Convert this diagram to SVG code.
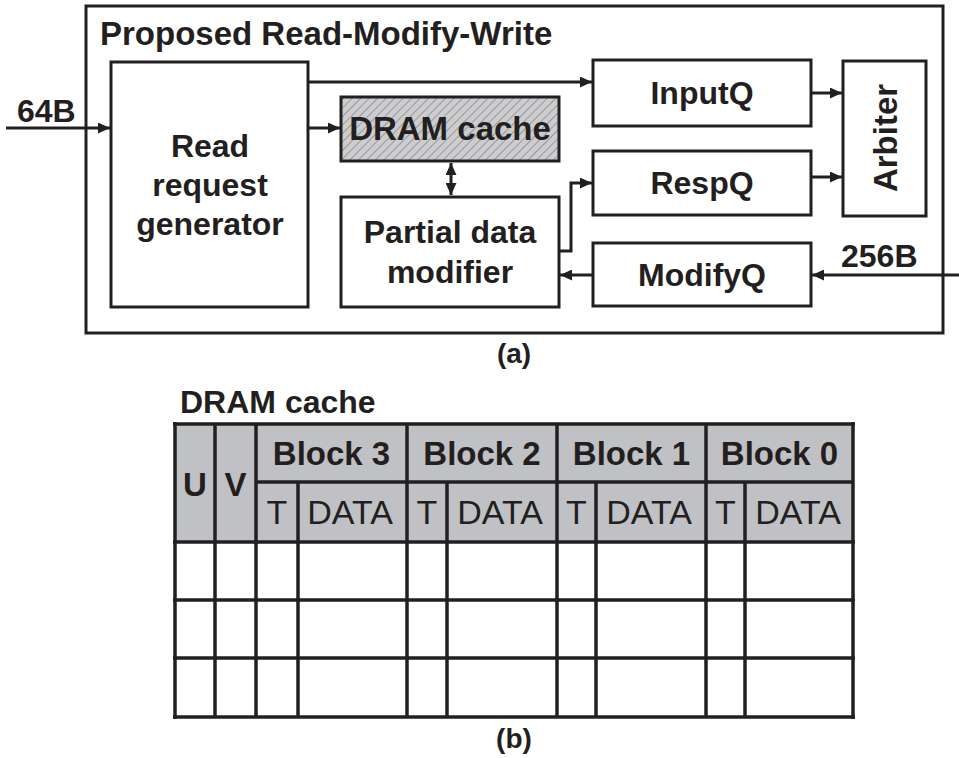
<svg xmlns="http://www.w3.org/2000/svg" width="959" height="758" viewBox="0 0 959 758">
  <defs>
    <style>
      .box { fill: #ffffff; stroke: #231f20; stroke-width: 3; }
      .wire { fill: none; stroke: #231f20; stroke-width: 3; }
      .lbl { font-family: "Liberation Sans", Arial, sans-serif; font-weight: bold; font-size: 32px; fill: #231f20; }
      .mid { text-anchor: middle; }
      .cap { font-family: "Liberation Sans", Arial, sans-serif; font-weight: bold; font-size: 28px; fill: #231f20; text-anchor: middle; }
      .hdr { font-family: "Liberation Sans", Arial, sans-serif; font-weight: bold; font-size: 33px; fill: #231f20; text-anchor: middle; }
      .sub { font-family: "Liberation Sans", Arial, sans-serif; font-size: 34px; fill: #231f20; text-anchor: middle; }
      .grid { stroke: #231f20; stroke-width: 3.5; fill: none; }
    </style>
    <pattern id="hatch" width="6" height="6" patternUnits="userSpaceOnUse" patternTransform="rotate(45)">
      <rect width="6" height="6" fill="#cdcdcf"/>
      <line x1="0" y1="0" x2="0" y2="6" stroke="#8a8a8c" stroke-width="1.6"/>
    </pattern>
    <marker id="arrow" viewBox="0 0 12 11" refX="12" refY="5.5" markerWidth="13" markerHeight="11" markerUnits="userSpaceOnUse" orient="auto-start-reverse">
      <path d="M0,0 L12,5.5 L0,11 Z" fill="#231f20"/>
    </marker>
  </defs>

  <rect width="959" height="758" fill="#ffffff"/>

  <!-- (a) block diagram -->
  <g id="rmw-frame">
    <rect class="box" x="86" y="6" width="857" height="327"/>
    <text class="lbl" x="100" y="45" style="font-size:33px">Proposed Read-Modify-Write</text>
  </g>

  <g id="read-request-generator">
    <rect class="box" x="111" y="62" width="197" height="245"/>
    <text class="lbl mid" x="210" y="157">Read</text>
    <text class="lbl mid" x="210" y="196">request</text>
    <text class="lbl mid" x="210" y="235">generator</text>
  </g>

  <g id="dram-cache">
    <rect x="341" y="97" width="218" height="64" fill="url(#hatch)" stroke="#231f20" stroke-width="3"/>
    <text class="lbl mid" x="450" y="140" style="font-size:33px">DRAM cache</text>
  </g>

  <g id="partial-data-modifier">
    <rect class="box" x="341" y="197" width="218" height="110"/>
    <text class="lbl mid" x="450" y="243">Partial data</text>
    <text class="lbl mid" x="450" y="283">modifier</text>
  </g>

  <g id="inputq">
    <rect class="box" x="593" y="60" width="218" height="66"/>
    <text class="lbl mid" x="702" y="104">InputQ</text>
  </g>

  <g id="respq">
    <rect class="box" x="593" y="151" width="218" height="64"/>
    <text class="lbl mid" x="702" y="194">RespQ</text>
  </g>

  <g id="modifyq">
    <rect class="box" x="593" y="243" width="218" height="63"/>
    <text class="lbl mid" x="702" y="286">ModifyQ</text>
  </g>

  <g id="arbiter">
    <rect class="box" x="843" y="61" width="83" height="155"/>
    <text class="lbl mid" transform="translate(897,138) rotate(-90)" style="font-size:33px">Arbiter</text>
  </g>

  <g id="io-labels">
    <text class="lbl" x="17" y="122">64B</text>
    <text class="lbl" x="841" y="267">256B</text>
  </g>

  <g id="connectors">
    <line class="wire" x1="6" y1="128" x2="110" y2="128" marker-end="url(#arrow)"/>
    <line class="wire" x1="308" y1="128" x2="340" y2="128" marker-end="url(#arrow)"/>
    <line class="wire" x1="308" y1="82" x2="592" y2="82" marker-end="url(#arrow)"/>
    <line class="wire" x1="451" y1="163" x2="451" y2="195" marker-start="url(#arrow)" marker-end="url(#arrow)"/>
    <line class="wire" x1="811" y1="93" x2="842" y2="93" marker-end="url(#arrow)"/>
    <line class="wire" x1="811" y1="177" x2="842" y2="177" marker-end="url(#arrow)"/>
    <path class="wire" d="M559,251 H571 V183 H592" marker-end="url(#arrow)"/>
    <line class="wire" x1="593" y1="275" x2="560" y2="275" marker-end="url(#arrow)"/>
    <line class="wire" x1="959" y1="275" x2="812" y2="275" marker-end="url(#arrow)"/>
  </g>

  <text class="cap" x="514" y="363">(a)</text>

  <!-- (b) DRAM cache layout -->
  <g id="cache-table">
    <text class="lbl" x="180" y="413">DRAM cache</text>
    <rect x="175" y="424" width="678" height="118" fill="#c0c1c4"/>
    <!-- horizontal rules -->
    <line class="grid" x1="173" y1="424" x2="855" y2="424"/>
    <line class="grid" x1="256" y1="482" x2="853" y2="482"/>
    <line class="grid" x1="173" y1="542" x2="855" y2="542"/>
    <line class="grid" x1="173" y1="600" x2="855" y2="600"/>
    <line class="grid" x1="173" y1="658" x2="855" y2="658"/>
    <line class="grid" x1="173" y1="717" x2="855" y2="717"/>
    <!-- full-height column rules -->
    <line class="grid" x1="175" y1="422" x2="175" y2="719"/>
    <line class="grid" x1="215" y1="424" x2="215" y2="717"/>
    <line class="grid" x1="256" y1="424" x2="256" y2="717"/>
    <line class="grid" x1="407" y1="424" x2="407" y2="717"/>
    <line class="grid" x1="557" y1="424" x2="557" y2="717"/>
    <line class="grid" x1="706" y1="424" x2="706" y2="717"/>
    <line class="grid" x1="853" y1="422" x2="853" y2="719"/>
    <!-- tag / data splits -->
    <line class="grid" x1="298" y1="482" x2="298" y2="717"/>
    <line class="grid" x1="447" y1="482" x2="447" y2="717"/>
    <line class="grid" x1="596" y1="482" x2="596" y2="717"/>
    <line class="grid" x1="745" y1="482" x2="745" y2="717"/>
    <!-- header text -->
    <text class="hdr" x="195" y="496">U</text>
    <text class="hdr" x="235.5" y="496">V</text>
    <text class="hdr" x="331.5" y="465">Block 3</text>
    <text class="hdr" x="482" y="465">Block 2</text>
    <text class="hdr" x="631.5" y="465">Block 1</text>
    <text class="hdr" x="779.5" y="465">Block 0</text>
    <text class="sub" x="277" y="524">T</text>
    <text class="sub" x="350" y="524">DATA</text>
    <text class="sub" x="427" y="524">T</text>
    <text class="sub" x="500" y="524">DATA</text>
    <text class="sub" x="576.5" y="524">T</text>
    <text class="sub" x="649" y="524">DATA</text>
    <text class="sub" x="725.5" y="524">T</text>
    <text class="sub" x="798" y="524">DATA</text>
  </g>

  <text class="cap" x="514" y="748">(b)</text>
</svg>
